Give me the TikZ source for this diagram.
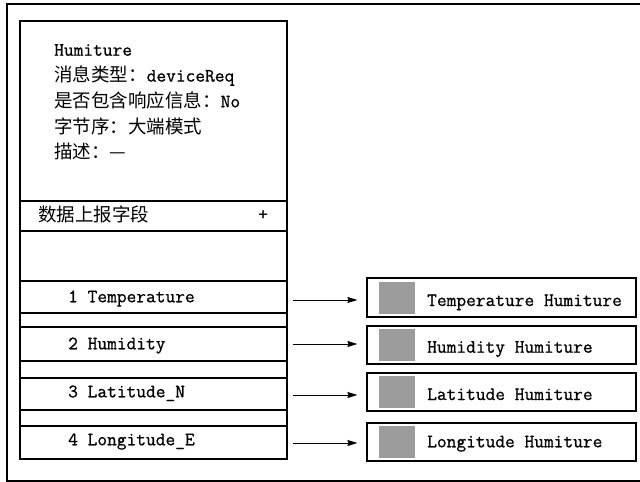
\documentclass[tikz,border=0pt]{standalone}
\usepackage{fontspec}
\setmainfont{Latin Modern Mono}[FakeBold=0.8]
\newfontfamily\cjkf{Noto Sans CJK SC}
\newcommand{\zh}[1]{{\cjkf\fontsize{18.5}{20}\selectfont #1}}
\usetikzlibrary{arrows.meta}
\definecolor{swatch}{HTML}{9C9C9C}
\tikzset{
  txt/.style={anchor=base west, inner sep=0pt, font=\fontsize{18.9}{20}\selectfont},
  rowbox/.style={draw, line width=1.1pt, minimum width=267pt, inner sep=0pt},
  outbox/.style={draw, line width=1.1pt, minimum width=269pt, minimum height=38pt, inner sep=0pt},
  sw/.style={fill=swatch, minimum width=36pt, minimum height=32pt, inner sep=0pt},
  conn/.style={line width=1pt, -{Stealth[length=10pt,width=6pt,inset=1pt]}},
}
\begin{document}
\begin{tikzpicture}[x=1pt,y=-1pt]
\useasboundingbox (0,0) rectangle (640,482);
% outer frame
\draw[line width=1.3pt] (640,4) -- (7,4) -- (7,481) -- (640,481);
% main class box
\node[draw, line width=1.1pt, minimum width=267pt, minimum height=438pt, inner sep=0pt] (main) at (153.5,240) {};
\draw[line width=1.1pt] (20,201) -- (287,201);
\draw[line width=1.1pt] (20,231) -- (287,231);
\node[txt] (t1) at (54,55.7) {Humiture};
\node[txt] (t2) at (54,81.6) {\zh{消息类型：}deviceReq};
\node[txt] (t3) at (54,107.3) {\zh{是否包含响应信息：}No};
\node[txt] (t4) at (54,133) {\zh{字节序：大端模式}};
\node[txt] (t5) at (54,158.6) {\zh{描述：—}};
\node[txt] (sec) at (38,221) {\zh{数据上报字段}};
\node[txt] (plus) at (258,220) {+};
% rows
\node[rowbox, minimum height=32pt] (r1) at (153.5,297) {};
\node[rowbox, minimum height=34pt] (r2) at (153.5,344) {};
\node[rowbox, minimum height=32pt] (r3) at (153.5,394) {};
\node[rowbox, minimum height=33pt] (r4) at (153.5,442.5) {};
\node[txt] at (68,302.3) {1 Temperature};
\node[txt] at (68,349.3) {2 Humidity};
\node[txt] at (68,397.3) {3 Latitude\_N};
\node[txt] at (68,445.3) {4 Longitude\_E};
% output boxes
\node[outbox, minimum height=39pt] (o1) at (501.5,297.5) {};
\node[outbox] (o2) at (501.5,345) {};
\node[outbox] (o3) at (501.5,392) {};
\node[outbox] (o4) at (501.5,442) {};
\node[sw] at (397,298) {};
\node[sw] at (397,345) {};
\node[sw] at (397,392) {};
\node[sw] at (397,442) {};
\node[txt] at (427,306) {Temperature Humiture};
\node[txt] at (427,352.7) {Humidity Humiture};
\node[txt] at (427,400) {Latitude Humiture};
\node[txt] at (427,447.3) {Longitude Humiture};
% connectors
\draw[conn] (r1.east |- 0,300) ++(5,0) -- ([xshift=-9pt]o1.west |- 0,300);
\draw[conn] (r2.east |- 0,344) ++(5,0) -- ([xshift=-9pt]o2.west |- 0,344);
\draw[conn] (r3.east |- 0,395) ++(5,0) -- ([xshift=-9pt]o3.west |- 0,395);
\draw[conn] (r4.east |- 0,443) ++(5,0) -- ([xshift=-9pt]o4.west |- 0,443);
\end{tikzpicture}
\end{document}
